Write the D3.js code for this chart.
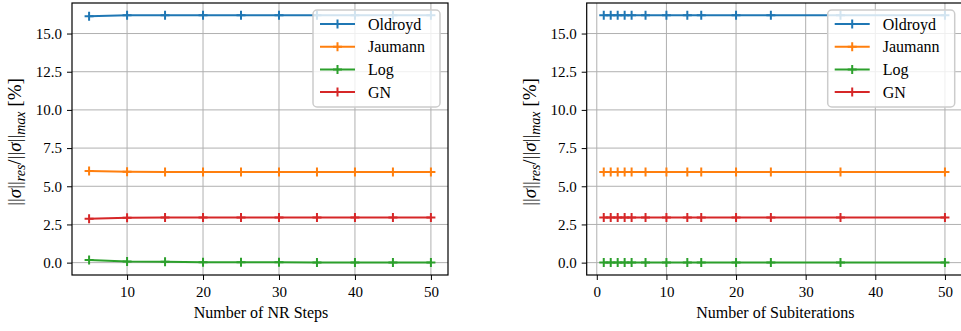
<!DOCTYPE html>
<html>
<head>
<meta charset="utf-8">
<script src="https://cdn.jsdelivr.net/npm/d3@7"></script>
<style>
  html, body { margin: 0; padding: 0; background: #fff; }
  svg { display: block; }
</style>
</head>
<body>
<svg id="chart" width="961" height="331"></svg>
<script>
// Relative residual stress error [%] for four objective stress rates
const seriesNames = ["Oldroyd", "Jaumann", "Log", "GN"];
const seriesColors = ["#1f77b4", "#ff7f0e", "#2ca02c", "#d62728"];

// Left panel: number of Newton-Raphson steps
const nrSteps = [5, 10, 15, 20, 25, 30, 35, 40, 45, 50];
const oldroydNR = [16.13, 16.2, 16.2, 16.2, 16.2, 16.2, 16.2, 16.2, 16.2, 16.2];
const jaumannNR = [6.0, 5.95, 5.94, 5.94, 5.94, 5.94, 5.94, 5.94, 5.94, 5.94];
const logNR = [0.17, 0.08, 0.05, 0.03, 0.02, 0.02, 0.01, 0.01, 0.01, 0.01];
const gnNR = [2.87, 2.94, 2.95, 2.95, 2.95, 2.95, 2.95, 2.95, 2.95, 2.95];

// Right panel: number of subiterations
const subIters = [1, 2, 3, 4, 5, 7, 10, 13, 15, 20, 25, 35, 50];
const oldroydSub = [16.2, 16.2, 16.2, 16.2, 16.2, 16.2, 16.2, 16.2, 16.2, 16.2, 16.2, 16.2, 16.2];
const jaumannSub = [5.94, 5.94, 5.94, 5.94, 5.94, 5.94, 5.94, 5.94, 5.94, 5.94, 5.94, 5.94, 5.94];
const logSub = [0.01, 0.01, 0.01, 0.01, 0.01, 0.01, 0.01, 0.01, 0.01, 0.01, 0.01, 0.01, 0.01];
const gnSub = [2.95, 2.95, 2.95, 2.95, 2.95, 2.95, 2.95, 2.95, 2.95, 2.95, 2.95, 2.95, 2.95];

const yTicks = [0, 2.5, 5, 7.5, 10, 12.5, 15];
const xTicksNR = [10, 20, 30, 40, 50];
const xTicksSub = [0, 10, 20, 30, 40, 50];

const svg = d3.select("#chart");
const FS = 15;
const SERIF = '"Liberation Serif", "DejaVu Serif", Tinos, FreeSerif, "Nimbus Roman", "Noto Serif", Times, serif';

function drawPanel(cfg) {
  const { left, right, top, bottom, xDomain, xs, ys, xTicks, xLabel, legendX } = cfg;
  const g = svg.append("g").attr("font-family", SERIF);
  const x = d3.scaleLinear().domain(xDomain).range([left, right]);
  const y = d3.scaleLinear().domain([-0.81, 17.0]).range([bottom, top]);

  const clipId = "clip" + Math.round(left);
  svg.append("defs").append("clipPath").attr("id", clipId)
    .append("rect").attr("x", left).attr("y", top)
    .attr("width", right - left).attr("height", bottom - top);

  // grid
  const grid = g.append("g").attr("clip-path", `url(#${clipId})`);
  grid.selectAll("line.gx").data(xTicks).join("line")
    .attr("class", "gx")
    .attr("x1", d => x(d)).attr("x2", d => x(d))
    .attr("y1", top).attr("y2", bottom)
    .attr("stroke", "#b0b0b0").attr("stroke-width", 1);
  grid.selectAll("line.gy").data(yTicks).join("line")
    .attr("class", "gy")
    .attr("x1", left).attr("x2", right)
    .attr("y1", d => y(d)).attr("y2", d => y(d))
    .attr("stroke", "#b0b0b0").attr("stroke-width", 1);

  // series
  const plot = g.append("g").attr("clip-path", `url(#${clipId})`);
  const line = d3.line().x(d => x(d[0])).y(d => y(d[1]));
  ys.forEach((vals, i) => {
    const pts = xs.map((xv, j) => [xv, vals[j]]);
    plot.append("path").datum(pts)
      .attr("d", line).attr("fill", "none")
      .attr("stroke", seriesColors[i]).attr("stroke-width", 2);
    const m = 4.5;
    plot.selectAll(null).data(pts).join("path")
      .attr("d", d => `M${x(d[0]) - m},${y(d[1])}h${2 * m}M${x(d[0])},${y(d[1]) - m}v${2 * m}`)
      .attr("stroke", seriesColors[i]).attr("stroke-width", 2).attr("fill", "none");
  });

  // axes
  const xAxis = d3.axisBottom(x).tickValues(xTicks).tickFormat(d3.format("d"))
    .tickSize(5).tickPadding(6);
  const gx = g.append("g").attr("transform", `translate(0,${bottom})`).call(xAxis);
  const yAxis = d3.axisLeft(y).tickValues(yTicks).tickFormat(d3.format(".1f"))
    .tickSize(5).tickPadding(5);
  const gy = g.append("g").attr("transform", `translate(${left},0)`).call(yAxis);
  [gx, gy].forEach(a => {
    a.attr("font-family", SERIF).attr("font-size", FS);
    a.select(".domain").remove();
    a.selectAll("line").attr("stroke", "#000").attr("stroke-width", 1);
    a.selectAll("text").attr("fill", "#000");
  });

  // frame
  g.append("rect").attr("x", left).attr("y", top)
    .attr("width", right - left).attr("height", bottom - top)
    .attr("fill", "none").attr("stroke", "#000").attr("stroke-width", 1.2);

  // x label
  g.append("text").attr("x", (left + right) / 2 + 1).attr("y", 318)
    .attr("text-anchor", "middle").attr("font-size", 16).text(xLabel);

  // y label
  const yl = g.append("text")
    .attr("transform", `translate(${left - 51},${(top + bottom) / 2 + 3}) rotate(-90)`)
    .attr("text-anchor", "middle").attr("font-size", 19);
  const parts = [
    ["||", null], ["σ", "it"], ["||", null], ["res", "sub"],
    ["/||", null], ["σ", "it"], ["||", null], ["max", "sub"], [" [%]", null]
  ];
  parts.forEach(([t, kind], i) => {
    const ts = yl.append("tspan").text(t);
    const prev = i > 0 ? parts[i - 1][1] : null;
    if (kind === "it") ts.attr("font-style", "italic");
    if (kind === "sub") {
      ts.attr("font-style", "italic").attr("font-size", 14).attr("dy", 4);
    } else if (prev === "sub") {
      ts.attr("dy", -4);
    }
  });

  // legend
  const lg = g.append("g");
  lg.append("rect").attr("x", legendX).attr("y", 10)
    .attr("width", 127).attr("height", 97).attr("rx", 4)
    .attr("fill", "#fff").attr("fill-opacity", 0.8)
    .attr("stroke", "#cccccc").attr("stroke-width", 1.5);
  seriesNames.forEach((name, i) => {
    const cy = 24 + i * 22.7;
    const x0 = legendX + 7, x1 = legendX + 42;
    lg.append("line").attr("x1", x0).attr("x2", x1).attr("y1", cy).attr("y2", cy)
      .attr("stroke", seriesColors[i]).attr("stroke-width", 2);
    const xm = (x0 + x1) / 2;
    lg.append("path").attr("d", `M${xm - 4.5},${cy}h9M${xm},${cy - 4.5}v9`)
      .attr("stroke", seriesColors[i]).attr("stroke-width", 2);
    lg.append("text").attr("x", legendX + 55).attr("y", cy + 5.5)
      .attr("font-size", 16).attr("fill", "#000").text(name);
  });
}

drawPanel({
  left: 72, right: 448, top: 3, bottom: 275,
  xDomain: [2.75, 52.25], xs: nrSteps,
  ys: [oldroydNR, jaumannNR, logNR, gnNR],
  xTicks: xTicksNR, xLabel: "Number of NR Steps", legendX: 313
});

drawPanel({
  left: 586.7, right: 962, top: 3, bottom: 275,
  xDomain: [-1.45, 52.45], xs: subIters,
  ys: [oldroydSub, jaumannSub, logSub, gnSub],
  xTicks: xTicksSub, xLabel: "Number of Subiterations", legendX: 827.7
});
</script>
</body>
</html>
